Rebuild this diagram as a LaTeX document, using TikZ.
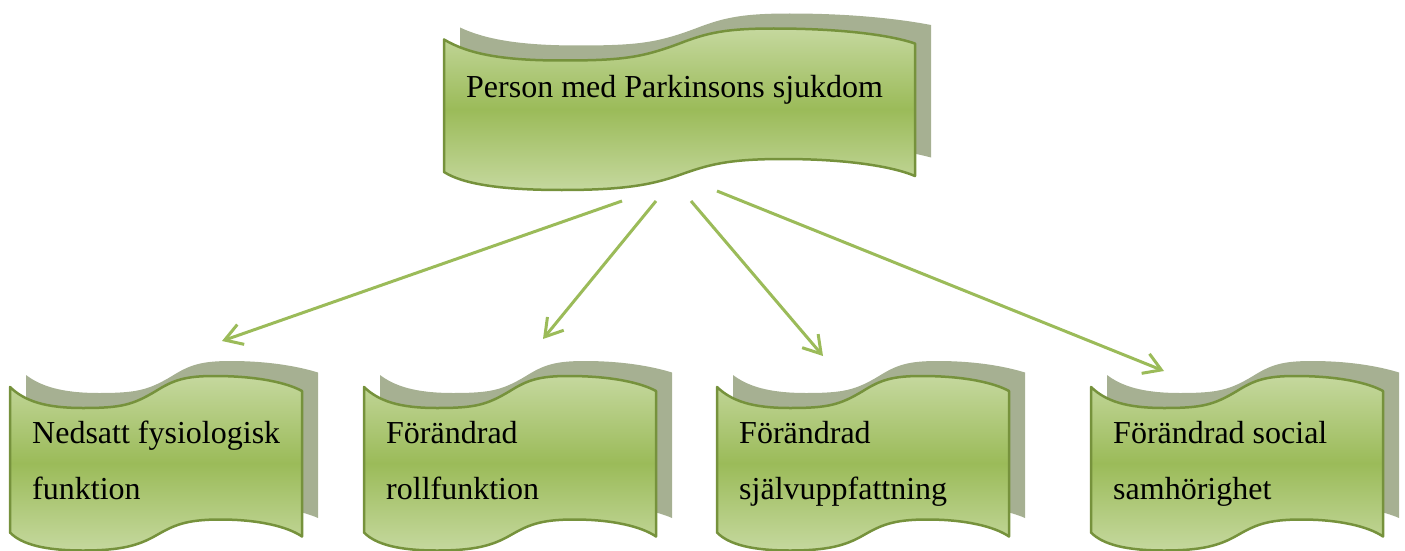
\documentclass[tikz,border=0pt]{standalone}
\usepackage{fontspec}
\setmainfont{Liberation Serif}
\usetikzlibrary{arrows.meta}

\definecolor{vagkant}{RGB}{118,146,60}
\definecolor{vagljus}{RGB}{197,216,158}
\definecolor{vagmork}{RGB}{155,187,89}
\definecolor{skugga}{RGB}{166,176,146}
\definecolor{pilgron}{RGB}{155,187,89}

% vagig banderoll: #1 stil, #2 vanster, #3 ovre kant, #4 hoger, #5 nedre kant, #6/#7 horn vanster/hoger
\newcommand{\bolja}[7]{%
	\pgfmathsetmacro{\bredd}{#4-#2}
	\path[#1] (#2,{#3+#6}) .. controls ({#2+0.05*\bredd},{#3+12}) and ({#2+0.12*\bredd},{#3+19}) .. ({#2+0.25*\bredd},{#3+19})
		.. controls ({#2+0.38*\bredd},{#3+19}) and ({#2+0.42*\bredd},{#3+16}) .. ({#2+0.5*\bredd},{#3+2})
		.. controls ({#2+0.56*\bredd},{#3-9}) and ({#2+0.6*\bredd},{#3-13}) .. ({#2+0.7*\bredd},{#3-13})
		.. controls ({#2+0.85*\bredd},{#3-13}) and ({#2+0.95*\bredd},{#3-6}) .. (#4,{#3+#7})
		-- (#4,{#5+#7}) .. controls ({#2+0.95*\bredd},{#5-8}) and ({#2+0.85*\bredd},{#5-15}) .. ({#2+0.72*\bredd},{#5-15})
		.. controls ({#2+0.6*\bredd},{#5-15}) and ({#2+0.56*\bredd},{#5-9}) .. ({#2+0.5*\bredd},{#5+1})
		.. controls ({#2+0.44*\bredd},{#5+11}) and ({#2+0.38*\bredd},{#5+16}) .. ({#2+0.25*\bredd},{#5+16})
		.. controls ({#2+0.12*\bredd},{#5+16}) and ({#2+0.04*\bredd},{#5+10}) .. (#2,{#5+#6}) -- cycle;
}
% skugga och framsida
\newcommand{\banderoll}[4]{%
	\bolja{fill=skugga,shift={(16,-15)}}{#1}{#2}{#3}{#4}{1}{-1.5}
	\bolja{framsida}{#1}{#2}{#3}{#4}{-2}{2}
}

\tikzset{
	framsida/.style={draw=vagkant, line width=2.5pt, line join=round, top color=vagljus, bottom color=vagljus, middle color=vagmork},
	etikett/.style={font=\fontsize{32}{56}\selectfont, align=left, inner sep=0pt, anchor=base west},
	pil/.style={draw=pilgron, line width=3pt, -{Straight Barb[length=17pt,width=21pt]}}
}

\begin{document}
\begin{tikzpicture}[x=1pt,y=-1pt]
			          \useasboundingbox (0,0) rectangle (1405,551);
			          %\draw[help lines,step=50] (0,0) grid (1405,551);
			          \banderoll{444}{41.5}{915}{174}
			          \banderoll{10}{389}{302}{534.5}
			          \banderoll{364}{389}{656}{534.5}
			          \banderoll{717}{389}{1009}{534.5}
			          \banderoll{1091}{389}{1383}{534.5}
			          % nod-baslinje = sista raden
			          \node[etikett] (P) at (466,97) {Person med Parkinsons sjukdom};
			          \node[etikett] (N_1) at (32,499) {Nedsatt fysiologisk\\funktion};
			          \node[etikett] (N_2) at (386,499) {Förändrad\\rollfunktion};
			          \node[etikett] (N_3) at (739,499) {Förändrad\\självuppfattning};
			          \node[etikett] (N_4) at (1113,499) {Förändrad social\\samhörighet};
			          \coordinate (A_1) at (622,201);
			          \coordinate (B_1) at (222,341);
			          \coordinate (A_2) at (656,201);
			          \coordinate (B_2) at (543,339);
			          \coordinate (A_3) at (691,201);
			          \coordinate (B_3) at (823,356);
			          \coordinate (A_4) at (717,191);
			          \coordinate (B_4) at (1164,371);
			          \draw[pil] (A_1) -- (B_1);
			          \draw[pil] (A_2) -- (B_2);
			          \draw[pil] (A_3) -- (B_3);
			          \draw[pil] (A_4) -- (B_4);
				  \end{tikzpicture}
\end{document}
